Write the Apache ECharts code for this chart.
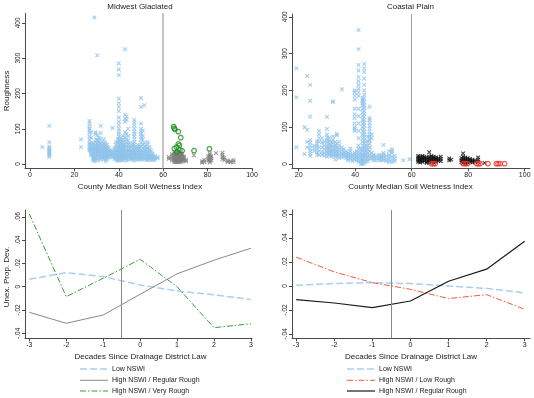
<!DOCTYPE html>
<html><head><meta charset="utf-8">
<script src="https://cdn.jsdelivr.net/npm/echarts@6/dist/echarts.min.js"></script>
<style>html,body{margin:0;padding:0;background:#fff}#c{width:534px;height:398px}</style>
</head><body><div id="c"></div>
<script>
// ---------- DATA ----------
// Scatter columns: [x, [y values...]]
const midLow = [
 [5.5,[48]],
 [8.7,[108,62,50,45,42,38,35,32,28,25,20]],
 [23,[70,48]],
 [26.8,[122,115,106,100,95,88,78,68,60,55,48,42,38]],
 [27.5,[90,75,58,50,45,40,35,30,25]],
 [28.5,[60,55,50,45,40,35,30,28,22,18,15,12]],
 [29,[415,12,8]],
 [29.5,[90,85,70,62,55,50,45,40,35,30,25,20]],
 [30.3,[308,82,68,58,52,46,40,35,28,22,15,10]],
 [31,[75,66,60,55,48,42,38,33,26,20]],
 [31.8,[108,88,72,58,50,44,36,30,25,18,12]],
 [32.5,[62,55,48,42,36,30,24,18]],
 [33.3,[70,58,50,44,38,32,26,20,14]],
 [34,[60,52,45,40,35,28,22,15,8]],
 [34.8,[55,48,42,36,30,25,20,12]],
 [35.5,[45,38,32,27,22,18]],
 [36.3,[40,34,28,22]],
 [37.2,[102,35,30,25,20]],
 [38,[45,38,32,26,20,15]],
 [38.7,[62,55,48,40,35,28,22,16,12]],
 [39.5,[70,60,52,45,38,32,26,20,14,10]],
 [40,[285,268,252,185,172,162,150,132,120,110,100,92,85,78,70,62,55,48,40,34,28,22,16,10]],
 [40.7,[75,68,60,52,45,38,32,26,20,14]],
 [41.3,[65,58,50,44,38,32,26,20,14,10]],
 [42,[80,70,62,55,48,42,36,30,24,18,12]],
 [42.8,[325,140,128,120,90,75,65,55,48,40,34,28,22,16]],
 [43.5,[135,125,85,70,60,52,45,38,32,26,20,14,10]],
 [44.2,[100,80,66,56,48,40,34,28,22,16]],
 [45,[60,52,44,38,32,26,20,14]],
 [45.7,[48,40,34,28,22,16,12]],
 [46.4,[58,50,42,36,30,24,18]],
 [47,[125,118,110,100,92,85,78,70,62,55,48,40,34,28,22,16,10]],
 [47.8,[45,38,32,26,20,14]],
 [48.5,[55,48,42,36,30,24,18,12]],
 [49.3,[50,44,38,32,26,20,14]],
 [50,[187,162,115,100,92,85,78,70,60,50,40,32,26,20,14]],
 [50.8,[95,80,70,55,45,38,30,24,18,12]],
 [51.5,[167,60,50,42,35,28,22,16]],
 [52.3,[50,42,36,30,24,18,12]],
 [53,[62,55,45,38,30,24,18,12]],
 [53.8,[48,40,32,26,20,14]],
 [54.5,[38,30,24,18,12]],
 [55.3,[30,24,18,12]],
 [56.2,[22,16,12]],
 [57.5,[20,16]]
];
const midReg = [
 [62.5,[20,15]],
 [64,[28,22,16,10]],
 [65,[35,30,26,22,18,14,10,6]],
 [65.7,[32,28,24,20,16,12,8,5]],
 [66.4,[35,30,26,22,18,14,10,6]],
 [67.1,[34,30,26,22,18,14,10,6]],
 [67.8,[30,26,22,18,14,10,6]],
 [68.5,[28,24,20,16,12,8]],
 [69.3,[22,18,14,10]],
 [70.3,[12,8]],
 [73.8,[25]],
 [77.5,[8,4]],
 [78.5,[12,6]],
 [80.3,[22,15,10]],
 [81,[30,25,20,15,10,5]],
 [81.7,[22,16,10]],
 [83.8,[31]],
 [86.7,[32,26,20,14]],
 [87.5,[18,11]],
 [89,[10,6]],
 [90.3,[8,5]],
 [91.7,[11,5]]
];
const midVery = [[64.7,106],[65,101],[65.3,98],[66.8,92],[67.9,75],[66.8,57],[67.3,53],[66,48],[65,44],[67.5,40],[68.5,38],[66.2,34],[73.9,38],[80.8,43]];

const coastLow = [
 [19.2,[260,181,45]],
 [22.1,[100,27]],
 [23,[239,93,60,45]],
 [24.1,[215,172,129,65,58,50,42,35,28,22]],
 [25.5,[50,42,35]],
 [26.5,[62,55,48,40,32,25]],
 [27.2,[90,80,70,60,45,35,25]],
 [28.3,[70,58,45,32,25]],
 [29,[60,50,40,30,22]],
 [30,[128,95,80,72,65,58,50,44,38,32,26,20]],
 [30.8,[70,62,55,48,42,36,30,24]],
 [31.5,[60,52,45,38,32,26,20]],
 [32.1,[170,168,75,66,58,50,42,35,28,22]],
 [33,[60,52,45,38,32,26,20,12]],
 [33.5,[82,78,55,45,35,28,22]],
 [34.3,[60,50,42,35,28,22,16]],
 [35.3,[203,45,38,30,24,18]],
 [36,[40,32,26,20]],
 [36.8,[35,28,22,16]],
 [37.5,[30,25,20,14,10]],
 [38.3,[42,35,28,22,15]],
 [39,[25,20,14,8]],
 [39.8,[200,195,185,175,150,135,125,110,100,95,90,30,24,18,12]],
 [40.5,[35,28,22,16,10]],
 [41.2,[364,312,269,254,236,225,215,205,195,185,150,130,110,90,70,50,40,32,24,18,12,6]],
 [42,[40,32,25,18,12,6,0]],
 [42.6,[180,175,170,165,160,150,140,130,120,110,100,90,80,70,60,50,42,35,28,22,16,10,5,0]],
 [43.2,[272,260,250,232,215,200,188,178,168,160,152,144,136,128,120,112,104,96,88,80,72,64,56,48,40,32,24,16,8,2]],
 [43.8,[60,50,40,32,25,18,12,5]],
 [44.5,[75,62,50,40,30,22,15,8]],
 [45.1,[156,125,120,112,104,96,88,80,72,64,55,45,35,25,15]],
 [45.8,[80,70,30,22,15]],
 [46.5,[25,20,15,10]],
 [47.3,[22,16,10]],
 [48.5,[25,20,15,10]],
 [49.3,[22,16,10]],
 [50,[52,30,25,20,15,10]],
 [51,[22,15,8]],
 [52,[35,25,18,12,5]],
 [53,[40,35,30,20,12,5]],
 [54,[22,15,8]],
 [57,[10]],
 [59.2,[13]]
];
const coastReg = [
 [62.3,[22,18,14,10,6]],
 [63,[20,16,12,8,4]],
 [63.8,[22,18,14,10,6]],
 [64.5,[20,16,12,8]],
 [65.3,[18,14,10,6,3]],
 [66.2,[32,20,16,12,8,4]],
 [67,[22,18,14,10,6]],
 [67.8,[20,16,12,8,4]],
 [68.6,[18,14,10,6]],
 [69.4,[16,12,8]],
 [70.3,[20,14,8]],
 [73.3,[15,10]],
 [74,[12]],
 [77.6,[16,10,5]],
 [78.2,[29,20,14,8,3]],
 [79,[18,14,10,6,2]],
 [79.8,[16,12,8,4]],
 [80.6,[14,10,6]],
 [81.5,[12,8,4]],
 [82.4,[10,6]],
 [83.5,[18,12,6]],
 [85.8,[3]]
];
const coastLowRough = [[67,1],[67.7,1],[68.3,1],[78.2,1],[79,1],[79.7,1],[83,1],[83.6,1],[84.2,1],[87,1],[90,1],[90.6,1],[91.3,1],[92.9,1]];

const decades = [-3,-2,-1,0,1,2,3];
const midLowLine  = [0.0064,0.012,0.0086,0.0015,-0.0037,-0.007,-0.011];
const midRegLine  = [-0.022,-0.0314,-0.0243,-0.0065,0.011,0.0227,0.033];
const midVeryLine = [0.0624,-0.0086,0.0072,0.0235,0.0,-0.0352,-0.0318];
const coastLowLine  = [0.0006,0.002,0.0028,0.002,0.0,-0.002,-0.0058];
const coastLRLine   = [0.024,0.0117,0.0028,-0.0028,-0.0105,-0.0072,-0.0194];
const coastRegLine  = [-0.0113,-0.0142,-0.018,-0.0125,0.0039,0.014,0.0372];

const xTicksMid = [0,20,40,60,80,100];
const xTicksCoast = [20,40,60,80,100];
const yTicksRough = [0,100,200,300,400];
const xTicksDec = [-3,-2,-1,0,1,2,3];
const yTicksDev = [-0.04,-0.02,0,0.02,0.04,0.06];

// ---------- BUILD ----------
const flat = cols => cols.flatMap(([x, ys]) => ys.map(y => [x, y]));
const pairs = ys => decades.map((d, i) => [d, ys[i]]);
const FONT = 'Liberation Sans, Arial, Helvetica, sans-serif';
const AX = '#4a4a4a';
const XSYM = 'path://M0,0L10,10M10,0L0,10';

function xAxis(gi, min, max, ticks, fmt) {
  return {type:'value', gridIndex:gi, min, max, splitLine:{show:false},
    axisLine:{show:true, onZero:false, lineStyle:{color:AX, width:1}},
    axisTick:{show:true, length:3, customValues:ticks, lineStyle:{color:AX}},
    axisLabel:{customValues:ticks, fontSize:7, color:'#222', fontFamily:FONT, margin:3, formatter:fmt}};
}
function yAxis(gi, min, max, ticks, fmt) {
  return {type:'value', gridIndex:gi, min, max, splitLine:{show:false},
    axisLine:{show:true, onZero:false, lineStyle:{color:AX, width:1}},
    axisTick:{show:true, length:3, customValues:ticks, lineStyle:{color:AX}},
    axisLabel:{customValues:ticks, fontSize:6.5, color:'#222', fontFamily:FONT, margin:3, rotate:90, formatter:fmt}};
}
const devFmt = v => { if (Math.abs(v) < 1e-9) return '0'; const s = Math.abs(v).toFixed(2).replace(/^0/, ''); return (v < 0 ? '-' : '') + s; };

function xScatter(gi, data, color) {
  return {type:'scatter', xAxisIndex:gi, yAxisIndex:gi, data, symbol:XSYM, symbolSize:3.6,
    itemStyle:{color:'rgba(0,0,0,0)', borderColor:color, borderWidth:1.1}, silent:true};
}
function oScatter(gi, data, color) {
  return {type:'scatter', xAxisIndex:gi, yAxisIndex:gi, data, symbol:'circle', symbolSize:4.6,
    itemStyle:{color:'rgba(0,0,0,0)', borderColor:color, borderWidth:1.2}, silent:true};
}
function line(gi, ys, color, width, type) {
  return {type:'line', xAxisIndex:gi, yAxisIndex:gi, data:pairs(ys), symbol:'none', silent:true,
    lineStyle:{color, width, type}};
}
function vline(x, color, width) {
  return {symbol:'none', silent:true, label:{show:false}, animation:false,
    lineStyle:{color, width, type:'solid'}, data:[{xAxis:x}]};
}

const s0 = xScatter(0, flat(midLow), '#8ec3ea'); s0.markLine = vline(60, '#c4c4c4', 2);
const s3 = xScatter(1, flat(coastLow), '#8ec3ea'); s3.markLine = vline(60, '#9a9a9a', 1);
const l0 = line(2, midLowLine, '#a8cff0', 1.5, [7,3]); l0.markLine = vline(-0.5, '#8a8a8a', 1);
const l3 = line(3, coastLowLine, '#a8cff0', 1.5, [7,3]); l3.markLine = vline(-0.5, '#8a8a8a', 1);

const series = [
  s0, xScatter(0, flat(midReg), '#7f7f7f'), oScatter(0, midVery, '#1e8c1e'),
  s3, xScatter(1, flat(coastReg), '#111111'), oScatter(1, coastLowRough, '#e8332a'),
  l0, line(2, midRegLine, '#8a8a8a', 1, 'solid'), line(2, midVeryLine, '#3a9c3a', 1, [6,2,1.5,2]),
  l3, line(3, coastLRLine, '#f25a3c', 1, [6,2,1.5,2]), line(3, coastRegLine, '#1a1a1a', 1.2, 'solid')
];

function txt(x, y, text, size, opts) {
  return Object.assign({type:'text', x, y, silent:true,
    style:{text, fill:'#222', font:size + 'px ' + FONT, align:'center', verticalAlign:'middle'}}, opts || {});
}
function legItem(x, y, color, width, dash, label) {
  return [
    {type:'line', silent:true, shape:{x1:x, y1:y, x2:x+28, y2:y}, style:{stroke:color, lineWidth:width, lineDash:dash}},
    {type:'text', silent:true, x:x+32, y, style:{text:label, fill:'#222', font:'7px ' + FONT, align:'left', verticalAlign:'middle'}}
  ];
}

const graphic = [
  txt(140, 6.5, 'Midwest Glaciated', 8),
  txt(410.5, 6.5, 'Coastal Plain', 8),
  txt(140, 186.5, 'County Median Soil Wetness Index', 8),
  txt(410.5, 186.5, 'County Median Soil Wetness Index', 8),
  txt(140.5, 356.5, 'Decades Since Drainage District Law', 8),
  txt(411, 356.5, 'Decades Since Drainage District Law', 8),
  txt(6.5, 91, 'Roughness', 8, {rotation: Math.PI/2}),
  txt(6.5, 277, 'Unex. Prop. Dev.', 8, {rotation: Math.PI/2}),
  ...legItem(80, 369, '#a8cff0', 1.5, [7,3], 'Low NSWI'),
  ...legItem(80, 380.3, '#8a8a8a', 1, null, 'High NSWI / Regular Rough'),
  ...legItem(80, 391, '#3a9c3a', 1, [6,2,1.5,2], 'High NSWI / Very Rough'),
  ...legItem(347, 369, '#a8cff0', 1.5, [7,3], 'Low NSWI'),
  ...legItem(347, 380.3, '#f25a3c', 1, [6,2,1.5,2], 'High NSWI / Low Rough'),
  ...legItem(347, 391, '#1a1a1a', 1.2, null, 'High NSWI / Regular Rough')
];

const option = {
  animation:false,
  backgroundColor:'#fff',
  textStyle:{fontFamily:FONT},
  grid:[
    {left:25, top:13.3, width:227, height:155},
    {left:292, top:14, width:238, height:154.3},
    {left:25, top:210, width:227, height:128.3},
    {left:292, top:210, width:238, height:128.3}
  ],
  xAxis:[
    xAxis(0, -2.26, 100, xTicksMid),
    xAxis(1, 17.63, 101.88, xTicksCoast),
    xAxis(2, -3.117, 3.03, xTicksDec),
    xAxis(3, -3.11, 3.14, xTicksDec)
  ],
  yAxis:[
    yAxis(0, -12, 427, yTicksRough),
    yAxis(1, -11.7, 407.6, yTicksRough),
    yAxis(2, -0.0443, 0.0658, yTicksDev, devFmt),
    yAxis(3, -0.0436, 0.0633, yTicksDev, devFmt)
  ],
  series,
  graphic
};
const chart = echarts.init(document.getElementById('c'), null, {renderer:'canvas'});
chart.setOption(option);
</script></body></html>
